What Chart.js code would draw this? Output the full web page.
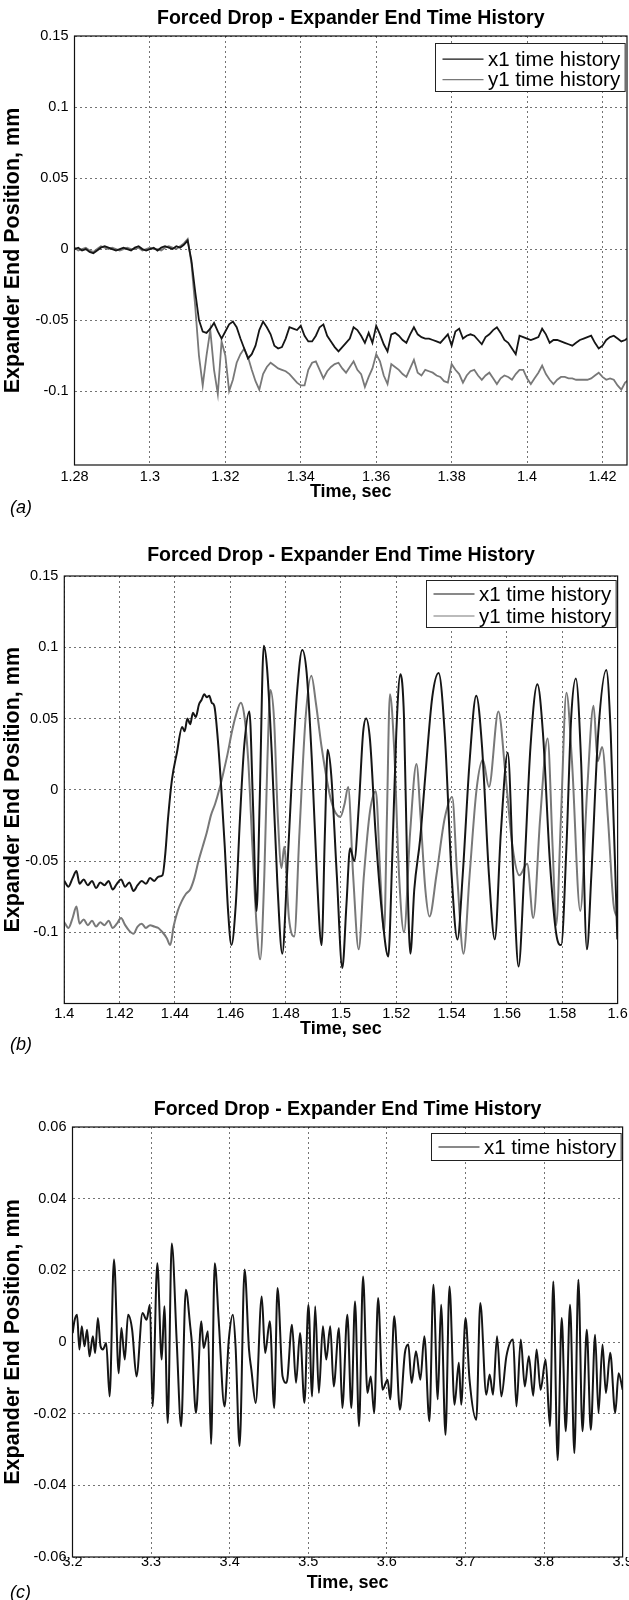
<!DOCTYPE html>
<html>
<head>
<meta charset="utf-8">
<title>Forced Drop - Expander End Time History</title>
<script src="https://cdn.jsdelivr.net/npm/chart.js@4.4.1/dist/chart.umd.min.js"></script>
<style>
  html, body { margin: 0; padding: 0; background: #fff; }
  body { position: relative; width: 629px; height: 1600px; overflow: hidden; font-family: 'Liberation Sans', Arial, sans-serif; }
  .panel { position: absolute; left: 0; }
  .tag { position: absolute; left: 10px; font-size: 18px; font-style: italic; line-height: 20px; color: #000; }
</style>
</head>
<body>
<canvas id="chartA" class="panel" width="629" height="515" style="top:0px"></canvas>
<canvas id="chartB" class="panel" width="629" height="555" style="top:515px"></canvas>
<canvas id="chartC" class="panel" width="629" height="530" style="top:1070px"></canvas>
<div class="tag" style="top:497px">(a)</div>
<div class="tag" style="top:1034px">(b)</div>
<div class="tag" style="top:1582px">(c)</div>
<script>
const FONT = "'Liberation Sans', Arial, Helvetica, sans-serif";
const TITLE = 'Forced Drop - Expander End Time History';
const X_LABEL = 'Time, sec';
const Y_LABEL = 'Expander End Position, mm';
const seriesNames = ['x1 time history', 'y1 time history'];
const seriesColors = ['#151515', '#787878'];

// (a) sampled every 1 ms from 1.28 s
const aStart = 1.28, aStep = 0.001;
const aX1 = [0.000, 0.001, -0.001, 0.000, -0.002, -0.003, -0.001, 0.001, 0.002, 0.001, 0.000, -0.001, 0.000, 0.001, 0.000, -0.001, 0.001, 0.002, 0.000, -0.001, 0.000, 0.001, -0.001, 0.001, 0.002, 0.001, 0.000, 0.002, 0.001, 0.003, 0.006,
  -0.008, -0.030, -0.050, -0.058, -0.059, -0.056, -0.052, -0.058, -0.063, -0.058, -0.053, -0.051, -0.055, -0.063, -0.070,
  -0.077, -0.074, -0.068, -0.057, -0.051, -0.055, -0.060, -0.068, -0.070, -0.069, -0.063, -0.055, -0.056, -0.057, -0.054, -0.061, -0.065, -0.065, -0.061, -0.055, -0.053, -0.061, -0.065, -0.069, -0.072, -0.069, -0.066, -0.063, -0.055, -0.057, -0.061, -0.066, -0.059, -0.066,
  -0.054, -0.060, -0.067, -0.072, -0.060, -0.059, -0.061, -0.064, -0.066, -0.060, -0.055, -0.060, -0.062, -0.063, -0.063, -0.064, -0.065, -0.066, -0.063, -0.060, -0.068, -0.058, -0.056, -0.063, -0.061, -0.060, -0.061, -0.064, -0.067, -0.062, -0.060, -0.057, -0.055, -0.059, -0.064, -0.066, -0.070, -0.074, -0.061, -0.062, -0.063, -0.064, -0.063, -0.062, -0.056, -0.060, -0.066, -0.064, -0.064, -0.065, -0.066, -0.067, -0.068, -0.066, -0.064, -0.063, -0.062, -0.061, -0.066, -0.070, -0.068, -0.064, -0.062, -0.061, -0.063, -0.065, -0.064, -0.062, -0.070, -0.066, -0.061];
const aY1 = [0.001, -0.001, 0.000, 0.001, -0.001, -0.002, 0.000, 0.002, 0.001, 0.000, 0.001, 0.000, -0.001, 0.000, 0.001, 0.000, 0.000, 0.001, -0.001, 0.000, 0.001, 0.000, 0.000, -0.001, 0.001, 0.002, 0.001, 0.000, 0.002, 0.004, 0.007,
  -0.010, -0.040, -0.075, -0.096, -0.075, -0.057, -0.085, -0.102, -0.065, -0.075, -0.100, -0.092, -0.080, -0.074, -0.070, -0.076, -0.085, -0.093, -0.099, -0.088, -0.083, -0.080, -0.082, -0.084, -0.085, -0.086, -0.088, -0.091, -0.094, -0.096, -0.096, -0.085, -0.080, -0.079, -0.085, -0.091, -0.086, -0.083, -0.081, -0.080, -0.084, -0.087, -0.083, -0.079, -0.085, -0.088, -0.097,
  -0.090, -0.084, -0.074, -0.079, -0.089, -0.095, -0.081, -0.083, -0.085, -0.088, -0.090, -0.084, -0.078, -0.087, -0.089, -0.085, -0.086, -0.087, -0.089, -0.090, -0.093, -0.094, -0.081, -0.085, -0.088, -0.094, -0.089, -0.086, -0.085, -0.089, -0.092, -0.089, -0.087, -0.091, -0.095, -0.091, -0.089, -0.090, -0.092, -0.088, -0.085, -0.085, -0.091, -0.095, -0.091, -0.087, -0.082, -0.088, -0.092, -0.095, -0.092, -0.090, -0.090, -0.091, -0.091, -0.092, -0.092, -0.092, -0.092, -0.091, -0.089, -0.087, -0.090, -0.092, -0.091, -0.092, -0.096, -0.099, -0.094, -0.092, -0.098, -0.094, -0.092];
const aXTicks = ['1.28', '1.3', '1.32', '1.34', '1.36', '1.38', '1.4', '1.42'];
const aXRange = [1.28, 1.4265];
const aYTicks = ['0.15', '0.1', '0.05', '0', '-0.05', '-0.1'];
const aYRange = [-0.152, 0.15];

// (b) points read at the turning points of each trace
const bTimeX1 = [1.4000, 1.4015, 1.4030, 1.4044, 1.4055, 1.4070, 1.4085, 1.4100, 1.4115, 1.4130, 1.4145, 1.4160, 1.4175, 1.4190, 1.4205, 1.4220, 1.4235, 1.4250, 1.4265, 1.4280, 1.4295, 1.4310, 1.4325, 1.4340, 1.4355,
  1.4365, 1.4375, 1.4389, 1.4407, 1.4426, 1.4435, 1.4445, 1.4455, 1.4465, 1.4475, 1.4487, 1.4496, 1.4506, 1.4515, 1.4524, 1.4533, 1.4542, 1.4555, 1.4567, 1.4580, 1.4592, 1.4604,
  1.4620, 1.4635, 1.4650, 1.4669, 1.4682, 1.4695, 1.4706, 1.4721, 1.4733, 1.4750,
  1.4770, 1.4788, 1.4805, 1.4823, 1.4842, 1.4860, 1.4876, 1.4895, 1.4913, 1.4930,
  1.4942, 1.4952, 1.4965, 1.4985, 1.5005, 1.5020, 1.5033, 1.5048, 1.5065, 1.5080,
  1.5091, 1.5105, 1.5125, 1.5150, 1.5171, 1.5185, 1.5200, 1.5215, 1.5228, 1.5240,
  1.5251, 1.5265, 1.5286, 1.5305, 1.5330, 1.5353, 1.5375, 1.5400, 1.5421, 1.5440,
  1.5465, 1.5489, 1.5510, 1.5535, 1.5556, 1.5578, 1.5603, 1.5623, 1.5642, 1.5662,
  1.5685, 1.5710, 1.5730, 1.5755, 1.5778, 1.5796, 1.5815, 1.5832, 1.5849, 1.5868,
  1.5889, 1.5905, 1.5930, 1.5959, 1.5975, 1.5999];
const bX1 = [-0.064, -0.068, -0.062, -0.057, -0.066, -0.063, -0.067, -0.064, -0.069, -0.065, -0.067, -0.064, -0.070, -0.066, -0.063, -0.068, -0.065, -0.071, -0.067, -0.064, -0.066, -0.062, -0.064, -0.061, -0.060,
  -0.045, -0.020, 0.007, 0.026, 0.044, 0.041, 0.050, 0.046, 0.054, 0.051, 0.060, 0.063, 0.067, 0.065, 0.066, 0.061, 0.059, 0.035, 0.002, -0.040, -0.085, -0.109,
  -0.080, -0.020, 0.030, 0.055, -0.010, -0.085, -0.010, 0.101, 0.085, 0.025,
  -0.065, -0.115, -0.060, 0.010, 0.070, 0.098, 0.082, 0.020, -0.060, -0.109,
  -0.030, 0.028, 0.010, -0.060, -0.125, -0.080, -0.041, -0.050, -0.010, 0.040,
  0.050, 0.035, -0.030, -0.090, -0.117, -0.050, 0.040, 0.081, 0.050, -0.060,
  -0.115, -0.070, -0.035, 0.010, 0.065, 0.082, 0.040, -0.060, -0.105, -0.060,
  0.020, 0.066, 0.030, -0.060, -0.105, -0.030, 0.026, -0.060, -0.124, -0.060,
  0.030, 0.074, 0.040, -0.050, -0.101, -0.109, -0.040, 0.050, 0.078, 0.020,
  -0.112, -0.060, 0.040, 0.084, 0.040, -0.105];
const bTimeY1 = [1.4000, 1.4015, 1.4030, 1.4044, 1.4055, 1.4070, 1.4085, 1.4100, 1.4115, 1.4130, 1.4145, 1.4160, 1.4175, 1.4190, 1.4205, 1.4220, 1.4235, 1.4250, 1.4265, 1.4280, 1.4295, 1.4310, 1.4325, 1.4340, 1.4355, 1.4370, 1.4383,
  1.4395, 1.4410, 1.4425, 1.4440, 1.4455, 1.4470, 1.4485, 1.4500, 1.4515, 1.4530,
  1.4545, 1.4560, 1.4575, 1.4590, 1.4605, 1.4620, 1.4638, 1.4652, 1.4665, 1.4680,
  1.4695, 1.4708, 1.4723, 1.4734, 1.4745, 1.4758, 1.4772, 1.4785, 1.4795, 1.4812,
  1.4831, 1.4850, 1.4872, 1.4893, 1.4910, 1.4930, 1.4965, 1.4998, 1.5013, 1.5026,
  1.5044, 1.5064, 1.5083, 1.5105, 1.5126, 1.5142, 1.5156, 1.5166, 1.5177, 1.5192,
  1.5210, 1.5228, 1.5250, 1.5273, 1.5288, 1.5305, 1.5320, 1.5345, 1.5375, 1.5402,
  1.5420, 1.5443, 1.5465, 1.5490, 1.5513, 1.5535, 1.5569, 1.5595, 1.5620, 1.5645,
  1.5673, 1.5695, 1.5720, 1.5747, 1.5765, 1.5778, 1.5795, 1.5815, 1.5835, 1.5865,
  1.5890, 1.5913, 1.5928, 1.5944, 1.5965, 1.5985, 1.6000];
const bY1 = [-0.093, -0.097, -0.090, -0.082, -0.094, -0.091, -0.095, -0.092, -0.096, -0.093, -0.095, -0.092, -0.097, -0.094, -0.090, -0.095, -0.099, -0.101, -0.096, -0.094, -0.097, -0.095, -0.096, -0.097, -0.100, -0.104, -0.109,
  -0.096, -0.085, -0.078, -0.073, -0.070, -0.062, -0.050, -0.040, -0.030, -0.018,
  -0.010, 0.000, 0.012, 0.025, 0.040, 0.052, 0.061, 0.050, 0.020, -0.040,
  -0.095, -0.119, -0.060, 0.020, 0.070, 0.050, -0.020, -0.055, -0.040, -0.090,
  -0.103, -0.030, 0.050, 0.080, 0.060, 0.030, -0.008, -0.019, -0.010, 0.002,
  -0.060, -0.112, -0.060, -0.015, -0.001, -0.060, -0.100, -0.020, 0.067, 0.030,
  -0.060, -0.100, -0.030, 0.018, -0.020, -0.070, -0.089, -0.060, -0.020, -0.005,
  -0.060, -0.115, -0.060, 0.000, 0.021, 0.002, 0.055, 0.010, -0.040, -0.060,
  -0.052, -0.090, -0.020, 0.036, -0.040, -0.095, -0.020, 0.068, 0.020, -0.085,
  0.000, 0.059, 0.020, 0.030, -0.020, -0.080, -0.090];
const bXTicks = ['1.4', '1.42', '1.44', '1.46', '1.48', '1.5', '1.52', '1.54', '1.56', '1.58', '1.6'];
const bXRange = [1.4, 1.6];
const bYTicks = ['0.15', '0.1', '0.05', '0', '-0.05', '-0.1'];
const bYRange = [-0.15, 0.15];

// (c)
const cTime = [3.2002, 3.2024, 3.2058, 3.2088, 3.2118, 3.2152, 3.2186, 3.2216, 3.2259, 3.2288, 3.2323, 3.2357, 3.2387, 3.2429, 3.2472, 3.2528, 3.2588, 3.2622, 3.2665, 3.2707,
  3.2759, 3.2814, 3.2891, 3.2942, 3.2985, 3.3019, 3.3079, 3.3135, 3.3169, 3.3212, 3.3263, 3.3327, 3.3382, 3.3442, 3.3498, 3.3519, 3.3571, 3.3639, 3.3669, 3.3724,
  3.3763, 3.3810, 3.3861, 3.3934, 3.3989, 3.4041, 3.4075, 3.4126, 3.4190, 3.4246, 3.4276, 3.4331, 3.4408, 3.4451, 3.4511, 3.4566, 3.4609, 3.4673, 3.4724, 3.4793,
  3.4844, 3.4895, 3.4951, 3.5002, 3.5049, 3.5088, 3.5135, 3.5186, 3.5229, 3.5280, 3.5323, 3.5391, 3.5433, 3.5497, 3.5548, 3.5595, 3.5646, 3.5697, 3.5753, 3.5795,
  3.5838, 3.5889, 3.5945, 3.6009, 3.6043, 3.6094, 3.6166, 3.6230, 3.6273, 3.6315, 3.6371, 3.6426, 3.6477, 3.6541, 3.6592, 3.6648, 3.6690, 3.6746, 3.6797, 3.6861,
  3.6916, 3.6946, 3.7001, 3.7052, 3.7138, 3.7189, 3.7265, 3.7308, 3.7351, 3.7402, 3.7457, 3.7521, 3.7606, 3.7649, 3.7704, 3.7755, 3.7807, 3.7862, 3.7905, 3.7956,
  3.8020, 3.8075, 3.8118, 3.8173, 3.8225, 3.8276, 3.8331, 3.8386, 3.8437, 3.8489, 3.8544, 3.8595, 3.8650, 3.8693, 3.8744, 3.8787, 3.8842, 3.8906, 3.8949, 3.9000];
const cX1 = [0.0025, 0.0058, 0.0076, -0.0021, 0.0044, -0.0012, 0.0034, -0.004, 0.0016, -0.0031, 0.0067, -0.0012, -0.0021, -0.0003, -0.0152, 0.023, -0.0087, 0.0039, -0.0049, 0.0076,
  0.0034, -0.0096, 0.0081, 0.0062, 0.0104, -0.018, 0.022, -0.0049, 0.010, -0.0226, 0.0275, -0.0003, -0.0235, 0.0146, 0.0044, -0.0003, -0.0198, 0.0058, -0.0017, 0.003,
  -0.0285, 0.022, 0.0058, -0.018, 0.0007, 0.0076, -0.0012, -0.029, 0.0202, -0.0021, -0.0077, -0.017, 0.0127, -0.0031, 0.0058, -0.0184, 0.0151, -0.0096, -0.0114, 0.0048,
  -0.0114, 0.0025, -0.017, 0.0104, -0.0152, 0.010, -0.0142, 0.0044, -0.0049, 0.0044, -0.0124, 0.0039, -0.0184, 0.0076, -0.0184, 0.0113, -0.0235, 0.0183, -0.0142, -0.0096,
  -0.0198, 0.0123, -0.0133, -0.0105, -0.016, 0.0072, -0.0189, -0.003, -0.0007, -0.0114, -0.0026, -0.0105, 0.0016, -0.0221, 0.016, -0.016, 0.0104, -0.0259, 0.0155, -0.0175,
  -0.0058, -0.0175, 0.0067, -0.0105, -0.0217, 0.0109, -0.0147, -0.0091, -0.0147, 0.0016, -0.0152, -0.004, 0.0007, -0.018, 0.0007, -0.0124, -0.004, -0.015, -0.0021, -0.0133,
  -0.0049, -0.0235, 0.0169, -0.033, 0.0067, -0.0249, 0.0104, -0.031, 0.0174, -0.0249, 0.0034, -0.0245, 0.002, -0.0198, -0.0007, -0.0142, -0.003, -0.0198, -0.0087, -0.0133];
const cXTicks = ['3.2', '3.3', '3.4', '3.5', '3.6', '3.7', '3.8', '3.9'];
const cXRange = [3.2, 3.9];
const cYTicks = ['0.06', '0.04', '0.02', '0', '-0.02', '-0.04', '-0.06'];
const cYRange = [-0.06, 0.06];

function toPoints(times, values) {
  return values.map((v, i) => ({ x: times[i], y: v }));
}
function sampled(start, step, values) {
  return values.map((v, i) => ({ x: start + i * step, y: v }));
}

// box round the plot, like the matlab axes
const framePlugin = {
  id: 'frame',
  afterDatasetsDraw(chart) {
    const { ctx, chartArea: a } = chart;
    ctx.save();
    ctx.strokeStyle = '#111';
    ctx.lineWidth = 1.2;
    ctx.strokeRect(a.left, a.top, a.right - a.left, a.bottom - a.top);
    ctx.restore();
  }
};

// legend inside the top right corner with a border
const boxLegend = {
  id: 'boxLegend',
  afterDraw(chart, args, opts) {
    const { ctx, chartArea } = chart;
    const sets = chart.data.datasets;
    ctx.save();
    ctx.font = opts.fontSize + 'px ' + FONT;
    const textW = Math.max(...sets.map(d => ctx.measureText(d.label).width));
    const w = opts.padLeft + opts.sample + opts.gap + textW + opts.padRight;
    const right = chartArea.right - opts.inset;
    const left = Math.round(right - w) + 0.5;
    const top = Math.round(chartArea.top + opts.top) + 0.5;
    ctx.fillStyle = '#fff';
    ctx.fillRect(left, top, w, opts.height);
    ctx.strokeStyle = '#222';
    ctx.lineWidth = 1;
    ctx.strokeRect(left, top, w, opts.height);
    sets.forEach((d, i) => {
      const y = top + opts.firstRow + i * opts.rowGap;
      ctx.strokeStyle = d.borderColor;
      ctx.lineWidth = 1.2;
      ctx.beginPath();
      ctx.moveTo(left + opts.padLeft, y);
      ctx.lineTo(left + opts.padLeft + opts.sample, y);
      ctx.stroke();
      ctx.fillStyle = '#000';
      ctx.textAlign = 'left';
      ctx.textBaseline = 'middle';
      ctx.fillText(d.label, left + opts.padLeft + opts.sample + opts.gap, y + 1);
    });
    ctx.restore();
  }
};

function makePanel(id, cfg) {
  const canvas = document.getElementById(id);
  const W = canvas.width, H = canvas.height;
  const area = cfg.area;
  const tickFont = { family: FONT, size: 14.5 };
  const xLabelFont = { family: FONT, size: 18, weight: 'bold' };
  const yLabelFont = { family: FONT, size: 21.5, weight: 'bold' };
  const gridOpts = { color: 'rgba(0,0,0,0.55)', lineWidth: 1, drawTicks: false };
  const borderOpts = { display: false, dash: [2, 3] };
  return new Chart(canvas, {
    type: 'line',
    data: { datasets: cfg.datasets },
    options: {
      responsive: false,
      animation: false,
      devicePixelRatio: 1,
      layout: { padding: { left: 0, right: W - area.right, top: 0, bottom: 0 } },
      elements: { point: { radius: 0 } },
      plugins: {
        legend: { display: false },
        tooltip: { enabled: false },
        title: {
          display: true, text: TITLE, fullSize: false, color: '#000',
          font: { family: FONT, size: 19.5, weight: 'bold' },
          padding: { top: cfg.titleY - 11.7, bottom: area.top - cfg.titleY - 11.7 }
        },
        boxLegend: cfg.legend
      },
      scales: {
        x: {
          type: 'linear', min: cfg.xRange[0], max: cfg.xRange[1],
          afterBuildTicks: s => { s.ticks = cfg.xTicks.map(t => ({ value: parseFloat(t) })); },
          afterFit: s => { s.height = H - area.bottom; },
          ticks: { callback: (v, i) => cfg.xTicks[i], autoSkip: false, maxRotation: 0, padding: cfg.tickY - area.bottom - 8.7, color: '#000', font: tickFont },
          grid: gridOpts, border: borderOpts,
          title: { display: true, text: X_LABEL, color: '#000', font: xLabelFont, padding: { top: 0, bottom: H - cfg.xTitleY - 10.8 } }
        },
        y: {
          type: 'linear', min: cfg.yRange[0], max: cfg.yRange[1],
          afterBuildTicks: s => { s.ticks = cfg.yTicks.map(t => ({ value: parseFloat(t) })); },
          afterFit: s => { s.width = area.left; },
          ticks: { callback: (v, i) => cfg.yTicks[i], autoSkip: false, padding: 6, color: '#000', font: tickFont },
          grid: gridOpts, border: borderOpts,
          title: { display: true, text: Y_LABEL, color: '#000', font: yLabelFont, padding: { top: 0.6, bottom: 0 } }
        }
      }
    },
    plugins: [framePlugin, boxLegend]
  });
}

function line(label, color, data, smooth) {
  return {
    label, data, borderColor: color, backgroundColor: color, borderWidth: smooth ? 2 : 1.8,
    pointRadius: 0, fill: false, tension: 0, cubicInterpolationMode: smooth ? 'monotone' : 'default'
  };
}

const legendStyle = { fontSize: 20.5, padLeft: 7, sample: 41, gap: 4.5, padRight: 5, inset: 2 };

makePanel('chartA', {
  area: { left: 74.5, right: 627, top: 36, bottom: 465 },
  titleY: 18.5, tickY: 477, xTitleY: 492,
  xTicks: aXTicks, xRange: aXRange, yTicks: aYTicks, yRange: aYRange,
  legend: Object.assign({ top: 6.7, height: 48, firstRow: 15.6, rowGap: 20.5 }, legendStyle),
  datasets: [
    line(seriesNames[0], seriesColors[0], sampled(aStart, aStep, aX1), false),
    line(seriesNames[1], seriesColors[1], sampled(aStart, aStep, aY1), false)
  ]
});

makePanel('chartB', {
  area: { left: 64.3, right: 626.5, top: 61, bottom: 488.5 },
  titleY: 41, tickY: 498.5, xTitleY: 514,
  xTicks: bXTicks, xRange: bXRange, yTicks: bYTicks, yRange: bYRange,
  legend: Object.assign({ top: 4, height: 47, firstRow: 13.5, rowGap: 22 }, legendStyle),
  datasets: [
    line(seriesNames[0], seriesColors[0], toPoints(bTimeX1, bX1), true),
    line(seriesNames[1], seriesColors[1], toPoints(bTimeY1, bY1), true)
  ]
});

makePanel('chartC', {
  area: { left: 72.5, right: 627, top: 57, bottom: 487 },
  titleY: 39.5, tickY: 492, xTitleY: 513,
  xTicks: cXTicks, xRange: cXRange, yTicks: cYTicks, yRange: cYRange,
  legend: Object.assign({ top: 5.5, height: 27, firstRow: 13.5, rowGap: 20 }, legendStyle),
  datasets: [
    line(seriesNames[0], seriesColors[0], toPoints(cTime, cX1), true)
  ]
});
</script>
</body>
</html>
